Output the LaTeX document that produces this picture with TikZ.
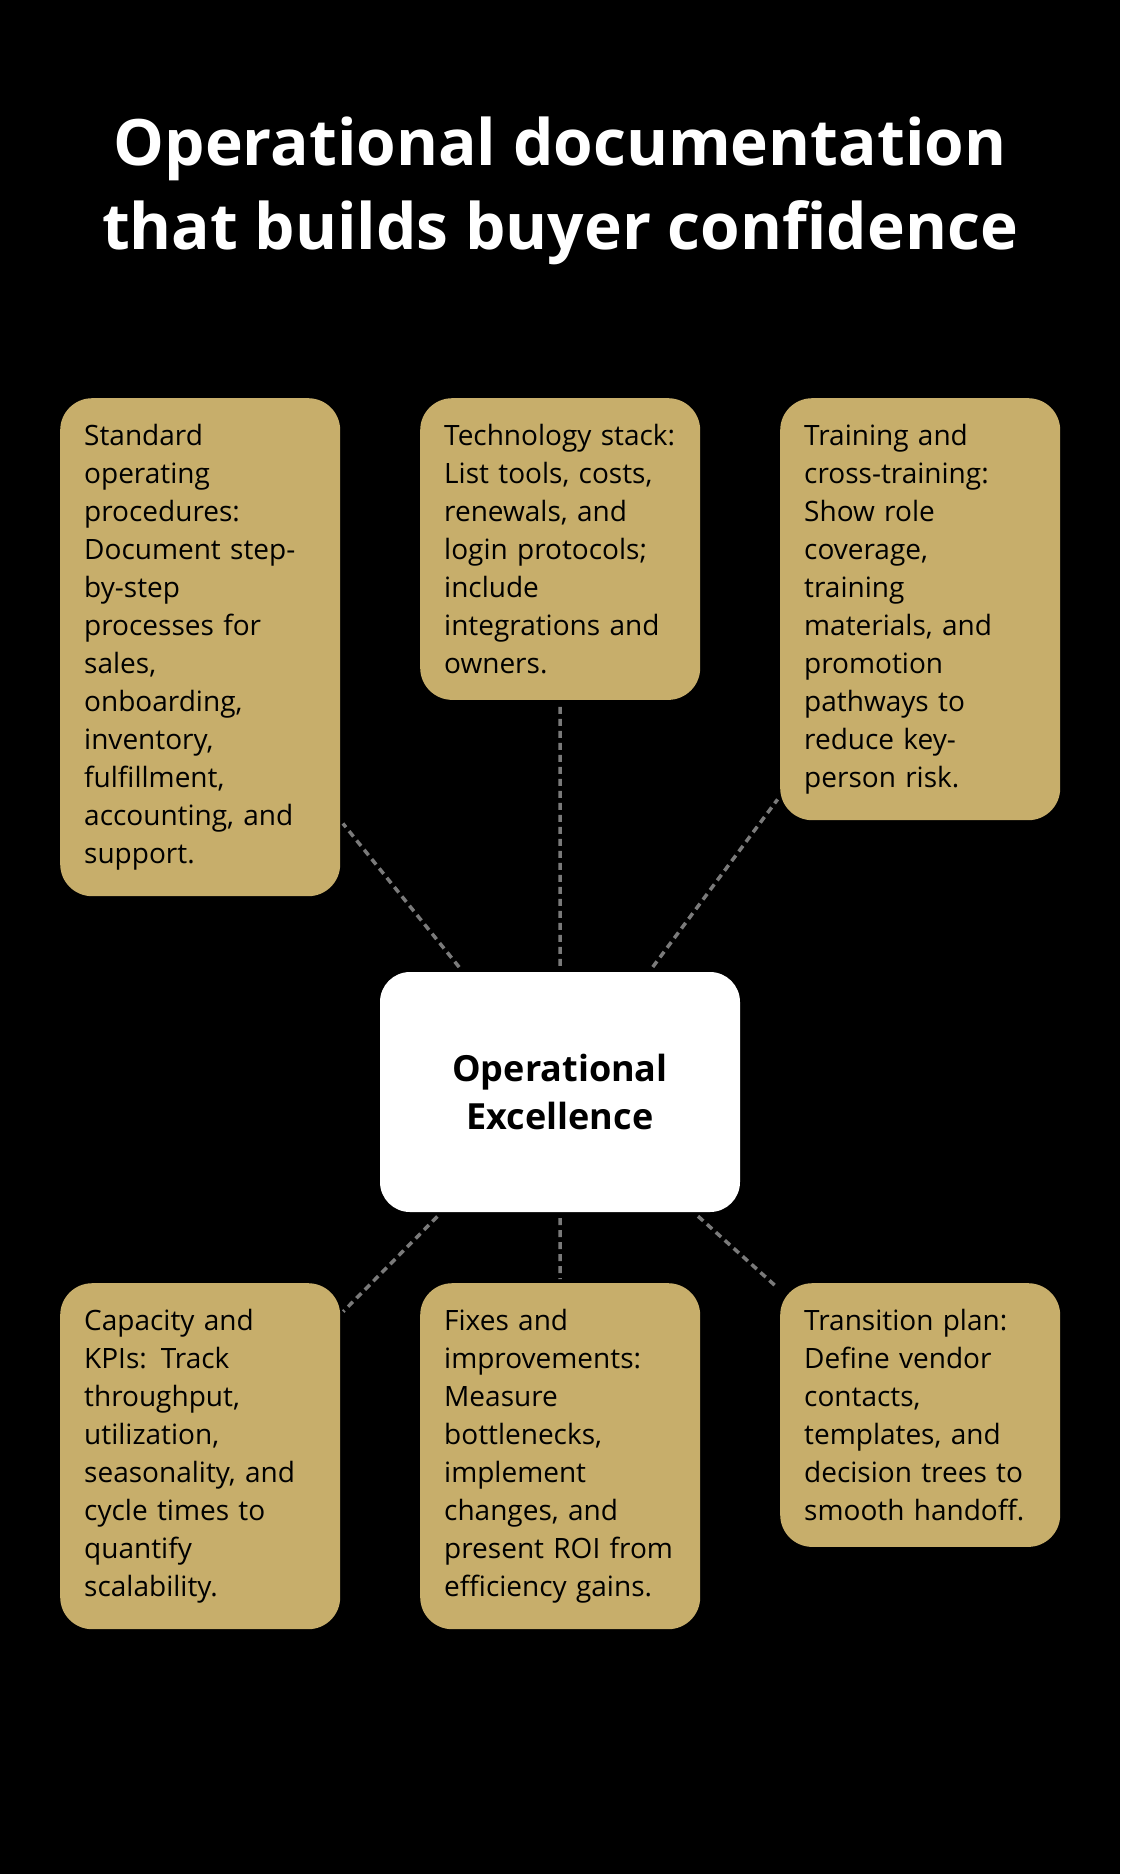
\documentclass[tikz,border=0pt]{standalone}
\usepackage{fontspec}
\setmainfont{Open Sans}
\usetikzlibrary{positioning}
\definecolor{gold}{HTML}{C7AE6B}
\definecolor{link}{HTML}{7A7A7A}
\tikzset{
  card/.style={rectangle, rounded corners=32pt, fill=gold, anchor=north west,
    text width=232pt, align=left, inner xsep=24pt, inner ysep=26pt,
    font=\fontsize{28}{38}\selectfont, text=black},
  hub/.style={rectangle, rounded corners=30pt, fill=white, minimum width=360pt,
    minimum height=240pt, align=center, font=\fontsize{36}{48}\selectfont\bfseries},
  link/.style={draw=link, line width=3.5pt, dash pattern=on 7pt off 5pt, shorten <=6pt, shorten >=4pt}
}
\begin{document}
\begin{tikzpicture}[x=1pt,y=-1pt]
    \fill[black] (0,0) rectangle (1120,1874);
    \useasboundingbox (0,0) rectangle (1120,1874);
    \node[text=white, align=center, font=\fontsize{64}{84}\selectfont\bfseries] (title) at (560,191)
        {Operational documentation\\that builds buyer confidence};

    \node[hub] (hub) at (560,1092) {Operational\\Excellence};

    \node[card] (sop) at (60,398) {Standard\\operating\\procedures:\\Document step-\\by-step\\processes for\\sales,\\onboarding,\\inventory,\\fulfillment,\\accounting, and\\support.};
    \node[card] (tech) at (420,398) {Technology stack:\\List tools, costs,\\renewals, and\\login protocols;\\include\\integrations and\\owners.};
    \node[card] (train) at (780,398) {Training and\\cross-training:\\Show role\\coverage,\\training\\materials, and\\promotion\\pathways to\\reduce key-\\person risk.};
    \node[card] (kpi) at (60,1283) {Capacity and\\KPIs: Track\\throughput,\\utilization,\\seasonality, and\\cycle times to\\quantify\\scalability.};
    \node[card] (fix) at (420,1283) {Fixes and\\improvements:\\Measure\\bottlenecks,\\implement\\changes, and\\present ROI from\\efficiency gains.};
    \node[card] (plan) at (780,1283) {Transition plan:\\Define vendor\\contacts,\\templates, and\\decision trees to\\smooth handoff.};

    \draw[link] (hub) -- (sop);
    \draw[link] (hub) -- (tech);
    \draw[link] (hub) -- (train);
    \draw[link] (hub) -- (kpi);
    \draw[link] (hub) -- (fix);
    \draw[link] (hub) -- (plan);
\end{tikzpicture}
\end{document}
